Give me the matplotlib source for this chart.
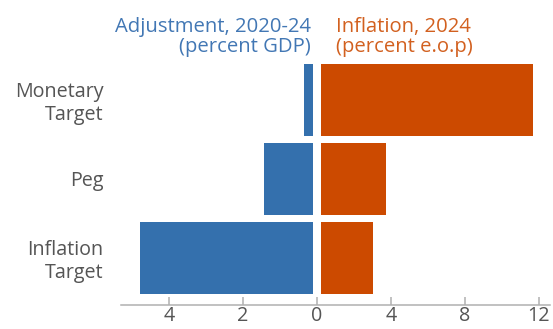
import matplotlib
matplotlib.use("Agg")
import matplotlib.pyplot as plt

# Regime groups, top to bottom
regimes = ["Monetary\nTarget", "Peg", "Inflation\nTarget"]
adjustment = [0.34, 1.42, 4.78]      # percent of GDP, 2020-24
inflation = [11.68, 3.75, 3.04]      # percent e.o.p, 2024

left_ticks = [4, 2]
right_ticks = [0, 4, 8, 12]

BLUE = "#3470ad"
ORANGE = "#cc4a00"
BLUE_TXT = "#4277b4"
ORANGE_TXT = "#d2601f"
GREY_TXT = "#555555"
AXIS = "#b0b0b0"

plt.rcParams["font.family"] = ["Open Sans", "DejaVu Sans"]
FS = 14.2
FS_HEAD = 14.6

W, H = 553, 329
fig = plt.figure(figsize=(W / 100, H / 100), dpi=100)
ax = fig.add_axes([121 / W, 1 - 305 / H, (550 - 121) / W, (305 - 60) / H])

# The adjustment side runs leftwards at twice the scale of the inflation side
LEFT_SCALE = 2.0
ypos = [2, 1, 0]
bar_h = 0.907

ax.barh(ypos, [-LEFT_SCALE * v for v in adjustment], height=bar_h,
        color=BLUE, linewidth=0, zorder=1)
ax.barh(ypos, inflation, height=bar_h, color=ORANGE, linewidth=0, zorder=1)

# white separator between the two halves
gap = 0.235
ax.axvspan(-gap, gap, color="white", linewidth=0, zorder=1.5)

ax.set_xlim(-10.59, 12.6)
ax.set_ylim(-0.597, 2.504)

xt = [-LEFT_SCALE * v for v in left_ticks] + right_ticks
xl = [str(v) for v in left_ticks] + [str(v) for v in right_ticks]
ax.set_xticks(xt)
ax.set_xticklabels(xl)
ax.tick_params(axis="x", direction="in", length=5.8, width=1.1, color=AXIS,
               labelsize=FS, labelcolor=GREY_TXT, pad=1.0)

ax.set_yticks(ypos)
ax.set_yticklabels(regimes)
ax.tick_params(axis="y", length=0, labelsize=FS, labelcolor=GREY_TXT, pad=12.5)

for side in ["top", "right", "left"]:
    ax.spines[side].set_visible(False)
ax.spines["bottom"].set_color(AXIS)
ax.spines["bottom"].set_linewidth(1.1)


# column headers, placed by pixel position from the top-left corner
def ptext(x, y, s, **kw):
    fig.text(x / W, 1 - y / H, s, fontsize=FS_HEAD, va="baseline", **kw)


ptext(311, 31.7, "Adjustment, 2020-24", ha="right", color=BLUE_TXT)
ptext(311, 51.7, "(percent GDP)", ha="right", color=BLUE_TXT)
ptext(336, 31.7, "Inflation, 2024", ha="left", color=ORANGE_TXT)
ptext(336, 51.7, "(percent e.o.p)", ha="left", color=ORANGE_TXT)

fig.savefig("out.png", dpi=100)
